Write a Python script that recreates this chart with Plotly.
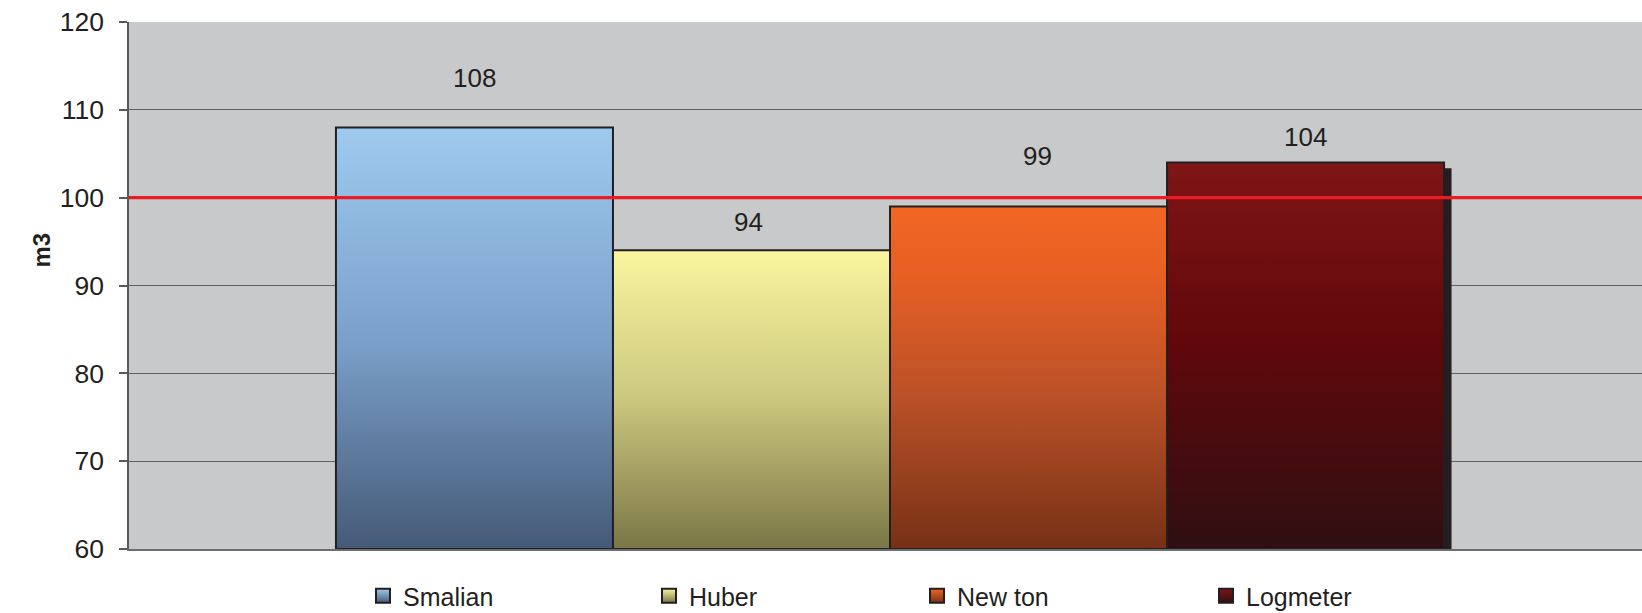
import plotly.graph_objects as go

# Volume estimates by formula (m3)
CATEGORIES = ["Smalian", "Huber", "New ton", "Logmeter"]
VOLUMES = [108, 94, 99, 104]
Y_TICKS = [60, 70, 80, 90, 100, 110, 120]
TARGET = 100

# Styling: vertical gradients (bottom -> top) per series
GRADIENTS = [
    [[0, "#455A77"], [0.5, "#7BA1CB"], [1, "#9FCAEE"]],
    [[0, "#7A7646"], [0.5, "#CBC77E"], [1, "#FAF59E"]],
    [[0, "#773116"], [0.45, "#BB5128"], [0.8, "#E75F23"], [1, "#F26623"]],
    [[0, "#2F0F12"], [0.55, "#62080B"], [1, "#7F1517"]],
]
LEGEND_TOP = ["#9FCAEE", "#FAF59E", "#F26623", "#7F1517"]
LEGEND_BOTTOM = ["#455A77", "#7A7646", "#773116", "#2F0F12"]
LEGEND_CENTERS_PX = [383, 669, 937, 1226]
LABEL_LIFT = [49, 28, 50, 26]
LABEL_NUDGE = [0, -3, 9, 0]

INK = "#231F20"
FONT = "Liberation Sans, Arial, sans-serif"
W, H = 1642, 613
Y0 = Y_TICKS[0]
HALF = 0.5
SHADOW_DX, SHADOW_DY = 0.027, 0.65
last = len(CATEGORIES) - 1

fig = go.Figure()

for i, (name, v) in enumerate(zip(CATEGORIES, VOLUMES)):
    if i == last:
        # depth shadow along the right side of the outermost column
        fig.add_trace(go.Scatter(
            x=[i + HALF, i + HALF + SHADOW_DX, i + HALF + SHADOW_DX, i + HALF, i + HALF],
            y=[Y0, Y0, v - SHADOW_DY, v - SHADOW_DY, Y0],
            mode="lines", fill="toself", fillcolor=INK,
            line=dict(width=0, color=INK),
            hoverinfo="skip", showlegend=False,
        ))
    # the column itself
    fig.add_trace(go.Scatter(
        x=[i - HALF, i + HALF, i + HALF, i - HALF, i - HALF],
        y=[Y0, Y0, v, v, Y0],
        mode="lines", fill="toself",
        fillgradient=dict(type="vertical", colorscale=GRADIENTS[i], start=Y0, stop=v),
        line=dict(width=2, color=INK),
        name=name, hoveron="fills", showlegend=False,
    ))
    # legend swatch
    lg = "legend" if i == 0 else f"legend{i + 1}"
    fig.add_trace(go.Scatter(
        x=[None], y=[None], mode="markers", name=name, legend=lg,
        marker=dict(symbol="square", size=14, color=LEGEND_TOP[i],
                    gradient=dict(type="vertical", color=LEGEND_BOTTOM[i]),
                    line=dict(width=2, color=INK)),
    ))
    fig.add_annotation(
        x=i, y=v, text=f"{v:.0f}", showarrow=False, yanchor="middle",
        yshift=LABEL_LIFT[i], xshift=LABEL_NUDGE[i],
        font=dict(family=FONT, size=26, color=INK),
    )

fig.add_hline(y=TARGET, line=dict(color="#ED1C24", width=3.3), layer="above")

fig.add_annotation(
    xref="paper", yref="paper", x=(25 - 129) / (W - 129), y=(549 - 250) / (549 - 22),
    text="<b>m3</b>", textangle=-90, showarrow=False,
    font=dict(family=FONT, size=24, color=INK),
)

legend_common = dict(
    orientation="h", xref="container", yref="container", xanchor="left",
    yanchor="middle", y=1 - 596 / H, bgcolor="rgba(0,0,0,0)",
    font=dict(family=FONT, size=25, color=INK), itemclick=False,
)
legends = {}
for i, cx in enumerate(LEGEND_CENTERS_PX):
    key = "legend" if i == 0 else f"legend{i + 1}"
    legends[key] = dict(legend_common, x=(cx - 20) / W)

fig.update_layout(
    width=W, height=H,
    margin=dict(l=129, r=0, t=22, b=64),
    paper_bgcolor="#FFFFFF", plot_bgcolor="#C8C9CB",
    font=dict(family=FONT, color=INK),
    xaxis=dict(range=[-1.247, 4.2145], showgrid=False, zeroline=False,
               showticklabels=False, ticks="", showline=True,
               linecolor="#6D6E71", linewidth=1.5, fixedrange=True),
    yaxis=dict(range=[Y_TICKS[0], Y_TICKS[-1]], tickvals=Y_TICKS,
               showgrid=True, gridcolor="#626366", gridwidth=1.2,
               zeroline=False, showline=True, linecolor="#58595B", linewidth=1.5,
               ticks="outside", ticklen=8, tickwidth=1.5, tickcolor="#58595B",
               ticklabelstandoff=10,
               tickfont=dict(family=FONT, size=26.5, color=INK), fixedrange=True),
    **legends,
)

fig.write_html("out.html")
